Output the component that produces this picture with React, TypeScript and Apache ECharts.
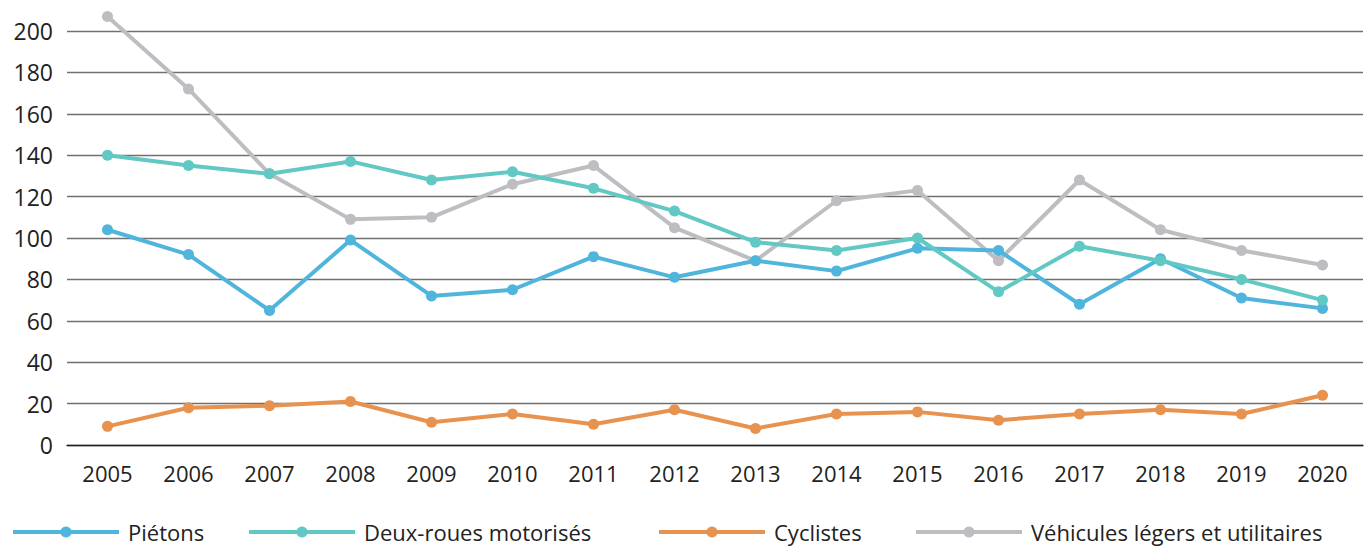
import React, { useEffect, useRef } from "react";
import * as echarts from "echarts";

const years = ["2005","2006","2007","2008","2009","2010","2011","2012","2013","2014","2015","2016","2017","2018","2019","2020"];
const pietons = [104, 92, 65, 99, 72, 75, 91, 81, 89, 84, 95, 94, 68, 90, 71, 66];
const deuxRoues = [140, 135, 131, 137, 128, 132, 124, 113, 98, 94, 100, 74, 96, 89, 80, 70];
const cyclistes = [9, 18, 19, 21, 11, 15, 10, 17, 8, 15, 16, 12, 15, 17, 15, 24];
const vehicules = [207, 172, 131, 109, 110, 126, 135, 105, 89, 118, 123, 89, 128, 104, 94, 87];

const seriesNames = ["Piétons", "Deux-roues motorisés", "Cyclistes", "Véhicules légers et utilitaires"];
const seriesData = [pietons, deuxRoues, cyclistes, vehicules];
const colors = ["#4fb5dc", "#62c8c3", "#e8924f", "#bebec2"];
const legendLefts = [11, 247, 657, 914];
const FONT = "'Open Sans', sans-serif";

export default function App() {
  const ref = useRef<HTMLDivElement>(null);
  useEffect(() => {
    if (!ref.current) return;
    const chart = echarts.init(ref.current, undefined, { renderer: "svg" });
    chart.setOption({
      animation: false,
      backgroundColor: "#ffffff",
      grid: { left: 67, right: 4, top: 31, bottom: 104, containLabel: false },
      xAxis: {
        type: "category",
        data: years,
        boundaryGap: true,
        axisLine: { show: true, lineStyle: { color: "#222", width: 1.3 } },
        axisTick: { show: false },
        axisLabel: { color: "#222", fontSize: 22, fontFamily: FONT, margin: 17 },
      },
      yAxis: {
        type: "value",
        min: 0,
        max: 200,
        interval: 20,
        axisLine: { show: false },
        axisTick: { show: false },
        axisLabel: { color: "#222", fontSize: 23, fontFamily: FONT, margin: 14 },
        splitLine: { show: true, lineStyle: { color: "#707070", width: 1.3 } },
      },
      legend: seriesNames.map((name, i) => ({
        data: [name],
        left: legendLefts[i],
        top: 521,
        itemWidth: 106,
        itemHeight: 14,
        itemGap: 10,
        padding: 0,
        lineStyle: { width: 4 },
        textStyle: { color: "#222", fontSize: 22, lineHeight: 22, fontFamily: FONT, padding: [0, 0, 0, 4] },
      })),
      series: seriesNames.map((name, i) => ({
        name,
        type: "line",
        data: seriesData[i],
        clip: false,
        symbol: "circle",
        symbolSize: 11,
        color: colors[i],
        lineStyle: { color: colors[i], width: 4 },
        itemStyle: { color: colors[i] },
        z: i === 3 ? 1 : 2 + i,
      })),
    });
    return () => chart.dispose();
  }, []);
  return (
    <div
      ref={ref}
      style={{ position: "fixed", left: 0, top: 0, width: 1367, height: 549, background: "#fff" }}
    />
  );
}
